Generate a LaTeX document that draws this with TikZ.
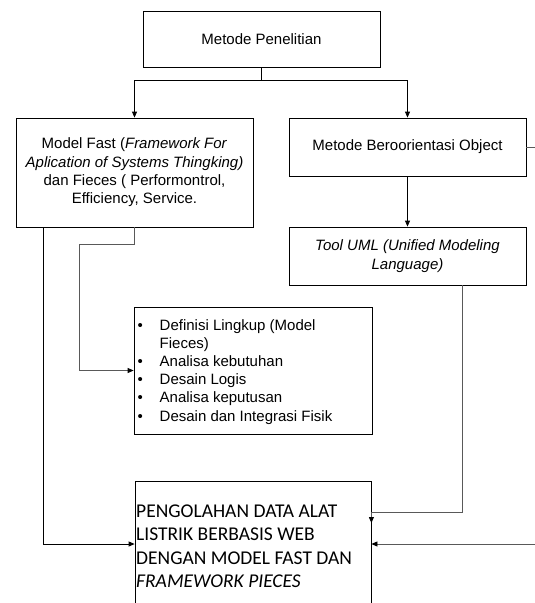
\documentclass[tikz,border=0pt]{standalone}
\usepackage{fontspec}
\setmainfont{Liberation Sans}
\newfontfamily\calib{Carlito}
\usetikzlibrary{arrows.meta,calc}
\begin{document}
\begin{tikzpicture}[x=1pt,y=-1pt,
  box/.style={draw=black,line width=0.8pt,rectangle,inner sep=0pt},
  arr/.style={line width=0.8pt,-{Triangle[length=6pt,width=5pt,color=black]}},
  ln/.style={line width=0.8pt},
  grayln/.style={draw=black!65},
  txt/.style={font=\fontsize{15}{18.4}\selectfont,align=center,inner sep=0pt}]
\useasboundingbox (0,0) rectangle (535,603);
\clip (0,0) rectangle (535,603);
% boxes
\node[box,minimum width=237pt,minimum height=56pt] (top) at (261.5,39) {};
\node[txt] (toptxt) at (top.center) {Metode Penelitian};
\node[box,minimum width=237pt,minimum height=109pt] (fast) at (134.5,172.5) {};
\node[txt] (fasttxt) at (fast.center) {Model Fast (\textit{Framework For}\\\textit{Aplication of Systems Thingking)}\\dan Fieces ( Performontrol,\\Efficiency, Service.};
\node[box,minimum width=237pt,minimum height=58pt] (obj) at (407.5,147) {};
\node[txt] (objtxt) at (obj.center) {Metode Beroorientasi Object};
\node[box,minimum width=237pt,minimum height=58pt] (uml) at (407.5,256) {};
\node[txt] (umltxt) at (uml.center) {\textit{Tool UML (Unified Modeling}\\\textit{Language)}};
\node[box,minimum width=238pt,minimum height=127pt] (list) at (253,370.5) {};
\node[anchor=base west,inner sep=0pt,font=\fontsize{15}{18.2}\selectfont] (listtxt) at (137.5,330)
  {\begin{tabular}[t]{@{}p{22pt}@{}l@{}}
   \textbullet & Definisi Lingkup (Model\\
               & Fieces)\\
   \textbullet & Analisa kebutuhan\\
   \textbullet & Desain Logis\\
   \textbullet & Analisa keputusan\\
   \textbullet & Desain dan Integrasi Fisik
   \end{tabular}};
\node[box,minimum width=236pt,minimum height=144pt] (bot) at (253,553) {};
\node[anchor=base west,inner sep=0pt,font=\calib\fontsize{19.5}{23.4}\selectfont] (bottxt) at (136,517.5)
  {\begin{tabular}[t]{@{}l@{}}
   PENGOLAHAN DATA ALAT\\
   LISTRIK BERBASIS WEB\\
   DENGAN MODEL FAST DAN\\
   \textit{FRAMEWORK PIECES}
   \end{tabular}};
% connectors
\coordinate (j) at (261.5,80);
\draw[ln] (top.south) -- (j);
\draw[arr] (j) -| (fast.north);
\draw[arr] (j) -| (obj.north);
\draw[arr] (obj.south) -- (uml.north);
\coordinate (fk) at (43,544);
\draw[arr] (fast.south -| fk) -- (fk) -- (fk -| bot.west);
\coordinate (lk) at (79,370.5);
\draw[arr,grayln] (fast.south) -- ++(0,17) -| (lk) -- (list.west);
\coordinate (uk) at (462,512);
\draw[arr,grayln] (uml.south -| uk) -- (uk) -- (uk -| bot.east) -- ++(0,11);
\coordinate (ok) at (560,544);
\draw[arr,grayln] (obj.east) -| (ok) -- (ok -| bot.east);
\end{tikzpicture}
\end{document}
